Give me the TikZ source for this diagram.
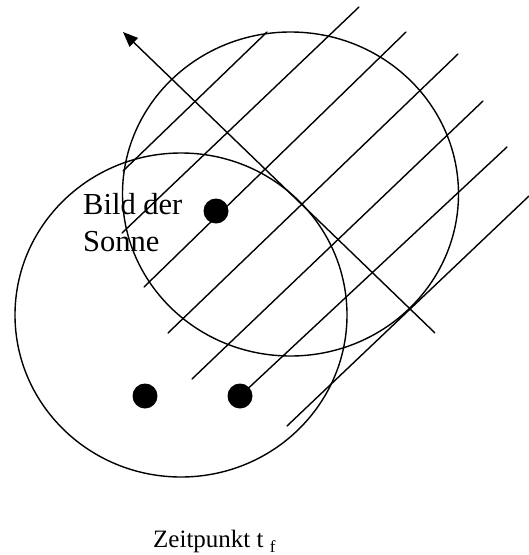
\documentclass[tikz,border=0pt]{standalone}
\usepackage{fontspec}
\setmainfont{Liberation Serif}
\usetikzlibrary{arrows.meta}
\tikzset{
  ln/.style={line width=1.4pt, line cap=round},
  circ/.style={line width=1.4pt},
  dotmark/.style={circle, fill=black, minimum size=25pt, inner sep=0pt},
  lbl/.style={inner sep=0pt, anchor=base west, font=\fontsize{30.5}{36}\selectfont},
  captext/.style={inner sep=0pt, anchor=base west, font=\fontsize{25}{28}\selectfont}
}
\begin{document}
\begin{tikzpicture}[x=1pt, y=-1pt]
\useasboundingbox (0,0) rectangle (529,555);
% circles
\draw[circ] (290.5,194) ellipse [x radius=168, y radius=162];
\draw[circ] (181,315) ellipse [x radius=166, y radius=162];
% dots
\node[dotmark] (d1) at (216,211) {};
\node[dotmark] (d2) at (145,396) {};
\node[dotmark] (d3) at (240,396) {};
% hatch lines
\coordinate (a1) at (123,171); \coordinate (b1) at (267,32);
\coordinate (a2) at (122,233); \coordinate (b2) at (359,7);
\coordinate (a3) at (144,287); \coordinate (b3) at (406,32);
\coordinate (a4) at (168,333); \coordinate (b4) at (458,54);
\coordinate (a5) at (192,379); \coordinate (b5) at (483,101);
\coordinate (b6) at (507,147);
\coordinate (a7) at (287,426); \coordinate (b7) at (529,196);
\draw[ln] (a1) -- (b1);
\draw[ln] (a2) -- (b2);
\draw[ln] (a3) -- (b3);
\draw[ln] (a4) -- (b4);
\draw[ln] (a5) -- (b5);
\draw[ln] (d3.center) -- (b6);
\draw[ln] (a7) -- (b7);
% arrow
\coordinate (s) at (435,333);
\coordinate (t) at (123,32);
\draw[line width=1.4pt, -{Triangle[length=15pt, width=12pt]}] (s) -- (t);
% labels
\node[lbl] (bild) at (83,214) {Bild der};
\node[lbl] (sonne) at (83,251) {Sonne};
\node[captext] (zeit) at (153,547) {Zeitpunkt t \raisebox{-5pt}{\fontsize{17}{17}\selectfont f}};
\end{tikzpicture}
\end{document}
